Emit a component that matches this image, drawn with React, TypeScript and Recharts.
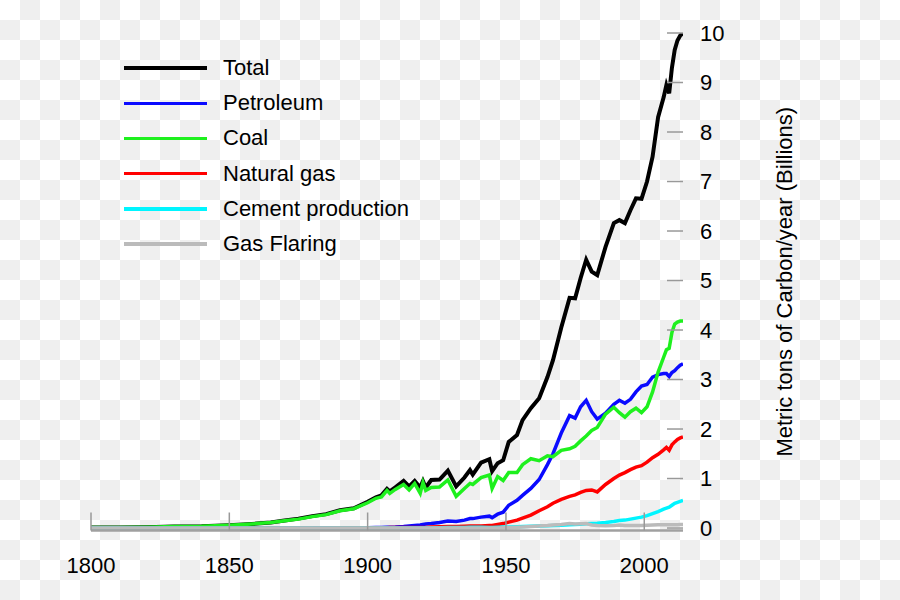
import React from 'react';
import { LineChart, Line, XAxis, YAxis, Legend } from 'recharts';

// years (denser where the lines wiggle)
const years = [
  1800, 1810, 1820, 1830, 1840, 1850, 1855, 1860, 1865, 1870, 1875, 1880, 1885, 1890, 1895, 1900,
  1903, 1905, 1907, 1908, 1910, 1913, 1915, 1917, 1919, 1920, 1921, 1923, 1926, 1929, 1932, 1935,
  1937, 1938, 1941, 1944, 1945, 1947, 1949,
  1951, 1954, 1956, 1959, 1962, 1965, 1967, 1970, 1973, 1975, 1977, 1979, 1981, 1983, 1986, 1989,
  1991, 1993, 1995, 1997, 1999,
  2001, 2003, 2005, 2007, 2008, 2009, 2010, 2011, 2012, 2013, 2014
];

// billions of metric tons of carbon per year
const total = [
  0.01, 0.01, 0.015, 0.03, 0.035, 0.055, 0.07, 0.09, 0.11, 0.15, 0.19, 0.24, 0.28, 0.36, 0.4, 0.53,
  0.62, 0.66, 0.79, 0.74, 0.82, 0.95, 0.84, 0.95, 0.82, 0.95, 0.82, 0.97, 0.98, 1.16, 0.84, 1.02,
  1.17, 1.08, 1.32, 1.39, 1.15, 1.31, 1.37,
  1.74, 1.88, 2.18, 2.42, 2.62, 3.05, 3.39, 4.05, 4.65, 4.64, 5.05, 5.42, 5.18, 5.11, 5.68, 6.16,
  6.22, 6.16, 6.42, 6.66, 6.65,
  7.0, 7.5, 8.3, 8.7, 8.95, 8.78, 9.3, 9.66, 9.85, 9.95, 10.0
];

const petroleum = [
  0, 0, 0, 0, 0, 0, 0, 0, 0, 0.001, 0.002, 0.003, 0.004, 0.005, 0.006, 0.008,
  0.01, 0.012, 0.015, 0.017, 0.02, 0.03, 0.04, 0.05, 0.06, 0.07, 0.08, 0.09, 0.11, 0.14, 0.13, 0.16,
  0.19, 0.19, 0.22, 0.24, 0.21, 0.28, 0.32,
  0.46, 0.56, 0.66, 0.8, 0.98, 1.28, 1.5, 1.92, 2.27, 2.22, 2.45, 2.58, 2.35, 2.2, 2.32, 2.5,
  2.58, 2.52, 2.6, 2.75, 2.87,
  2.9, 3.05, 3.1, 3.12, 3.12, 3.06, 3.14, 3.18, 3.24, 3.29, 3.32
];

const coal = [
  0.01, 0.01, 0.015, 0.03, 0.035, 0.055, 0.07, 0.09, 0.11, 0.145, 0.18, 0.23, 0.27, 0.35, 0.39, 0.51,
  0.6, 0.63, 0.76, 0.7, 0.78, 0.88, 0.77, 0.9, 0.7, 0.92, 0.76, 0.82, 0.83, 0.97, 0.64, 0.8,
  0.9, 0.88, 1.02, 1.07, 0.8, 1.04, 0.96,
  1.12, 1.12, 1.28, 1.4, 1.36, 1.46, 1.44, 1.57, 1.6, 1.65, 1.76, 1.86, 1.97, 2.03, 2.3, 2.44,
  2.33, 2.24, 2.35, 2.42, 2.33,
  2.45, 2.75, 3.15, 3.45, 3.6, 3.63, 3.95, 4.12, 4.16, 4.18, 4.18
];

const naturalGas = [
  0, 0, 0, 0, 0, 0, 0, 0, 0, 0, 0, 0, 0.002, 0.004, 0.004, 0.005,
  0.006, 0.007, 0.008, 0.009, 0.01, 0.011, 0.012, 0.013, 0.013, 0.013, 0.013, 0.02, 0.025, 0.03, 0.03, 0.035,
  0.04, 0.04, 0.04, 0.05, 0.05, 0.07, 0.09,
  0.12, 0.16, 0.2, 0.26, 0.35, 0.43, 0.5, 0.58, 0.64, 0.67, 0.72, 0.76, 0.77, 0.73, 0.88, 1.0,
  1.07, 1.12, 1.18, 1.23, 1.26,
  1.33, 1.42, 1.49, 1.58, 1.63, 1.57, 1.68, 1.74, 1.79, 1.82, 1.84
];

const cement = [
  0, 0, 0, 0, 0, 0, 0, 0, 0, 0, 0, 0, 0, 0, 0, 0,
  0, 0, 0, 0, 0, 0, 0, 0, 0, 0, 0, 0, 0.005, 0.01, 0.01, 0.01,
  0.015, 0.015, 0.015, 0.01, 0.01, 0.015, 0.02,
  0.02, 0.025, 0.03, 0.035, 0.04, 0.045, 0.05, 0.055, 0.065, 0.07, 0.075, 0.085, 0.09, 0.095, 0.11, 0.13,
  0.15, 0.16, 0.18, 0.2, 0.22,
  0.25, 0.29, 0.33, 0.38, 0.4, 0.42, 0.46, 0.5, 0.52, 0.54, 0.56
];

const gasFlaring = [
  0, 0, 0, 0, 0, 0, 0, 0, 0, 0, 0, 0, 0, 0, 0, 0,
  0, 0, 0, 0, 0, 0, 0, 0, 0, 0, 0, 0, 0, 0, 0, 0,
  0, 0, 0, 0, 0, 0, 0.005,
  0.01, 0.015, 0.02, 0.03, 0.04, 0.05, 0.06, 0.07, 0.09, 0.08, 0.085, 0.09, 0.06, 0.05, 0.045, 0.05,
  0.06, 0.05, 0.05, 0.05, 0.05,
  0.055, 0.06, 0.065, 0.065, 0.065, 0.065, 0.065, 0.065, 0.065, 0.07, 0.07
];

const xTicks = [1800, 1850, 1900, 1950, 2000];
const yTicks = [0, 1, 2, 3, 4, 5, 6, 7, 8, 9, 10];

const series = [
  { key: 'total', name: 'Total', color: '#000000', width: 4 },
  { key: 'petroleum', name: 'Petroleum', color: '#0a0aff', width: 3.5 },
  { key: 'coal', name: 'Coal', color: '#1ef01e', width: 3.5 },
  { key: 'naturalGas', name: 'Natural gas', color: '#ff0000', width: 3.5 },
  { key: 'cement', name: 'Cement production', color: '#00f5ff', width: 3.5 },
  { key: 'gasFlaring', name: 'Gas Flaring', color: '#bbbbbb', width: 3.5 }
];

const data = years.map((year, i) => ({
  year,
  total: total[i],
  petroleum: petroleum[i],
  coal: coal[i],
  naturalGas: naturalGas[i],
  cement: cement[i],
  gasFlaring: gasFlaring[i]
}));

const FONT = '"Liberation Sans", Arial, sans-serif';

const XTick = (props: any) => {
  const { x, y, payload } = props;
  return (
    <g>
      <line x1={x} y1={y} x2={x} y2={y - 18} stroke="#999" strokeWidth={1.5} />
      <text x={x} y={y + 42} textAnchor="middle" fontSize={22} fontFamily={FONT} fill="#000">
        {payload.value}
      </text>
    </g>
  );
};

const YTick = (props: any) => {
  const { x, y, payload } = props;
  return (
    <g>
      <line x1={x - 16} y1={y} x2={x} y2={y} stroke="#999" strokeWidth={1.5} />
      <text x={x + 17} y={y} dy="0.36em" textAnchor="start" fontSize={22} fontFamily={FONT} fill="#000">
        {payload.value}
      </text>
    </g>
  );
};

const YTitle = (props: any) => {
  const vb = props.viewBox || {};
  const cx = (vb.x ?? 683) + 101;
  const cy = (vb.y ?? 33) + (vb.height ?? 497) / 2;
  return (
    <text
      x={cx}
      y={cy}
      dy="0.36em"
      transform={`rotate(-90 ${cx} ${cy})`}
      textAnchor="middle"
      fontSize={22}
      fontFamily={FONT}
      fill="#000"
    >
      Metric tons of Carbon/year (Billions)
    </text>
  );
};

const renderLegend = () => (
  <div style={{ fontFamily: FONT, fontSize: 22, color: '#000' }}>
    {series.map(s => (
      <div key={s.key} style={{ display: 'flex', alignItems: 'center', height: 35.2 }}>
        <div style={{ width: 83, height: 3.5, background: s.color, marginRight: 16 }} />
        <span style={{ lineHeight: '22px', whiteSpace: 'nowrap' }}>{s.name}</span>
      </div>
    ))}
  </div>
);

const App: React.FC = () => {
  return (
    <div
      style={{
        position: 'fixed',
        left: 0,
        top: 0,
        width: 900,
        height: 600,
        backgroundColor: '#fff',
        backgroundImage:
          'conic-gradient(#efefef 0 25%, #fff 0 50%, #efefef 0 75%, #fff 0)',
        backgroundSize: '40px 40px'
      }}
    >
      <LineChart
        width={900}
        height={600}
        data={data}
        margin={{ top: 33, right: 107, bottom: 9.5, left: 91 }}
      >
        <XAxis
          dataKey="year"
          type="number"
          domain={[1800, 2014]}
          ticks={xTicks}
          allowDataOverflow
          height={60}
          tickSize={0}
          tickMargin={0}
          tickLine={false}
          axisLine={{ stroke: '#a0a0a0', strokeWidth: 2.5 }}
          tick={<XTick />}
        />
        <YAxis
          orientation="right"
          type="number"
          domain={[-0.05, 10]}
          ticks={yTicks}
          allowDataOverflow
          width={110}
          tickSize={0}
          tickMargin={0}
          tickLine={false}
          axisLine={false}
          tick={<YTick />}
          label={<YTitle />}
        />
        <Legend
          layout="vertical"
          align="center"
          verticalAlign="middle"
          wrapperStyle={{ top: 50.5, left: 124, width: 320, height: 215 }}
          content={renderLegend}
        />
        {series.map(s => (
          <Line
            key={s.key}
            type="linear"
            dataKey={s.key}
            name={s.name}
            stroke={s.color}
            strokeWidth={s.width}
            dot={false}
            activeDot={false}
            isAnimationActive={false}
          />
        ))}
      </LineChart>
    </div>
  );
};

export default App;
